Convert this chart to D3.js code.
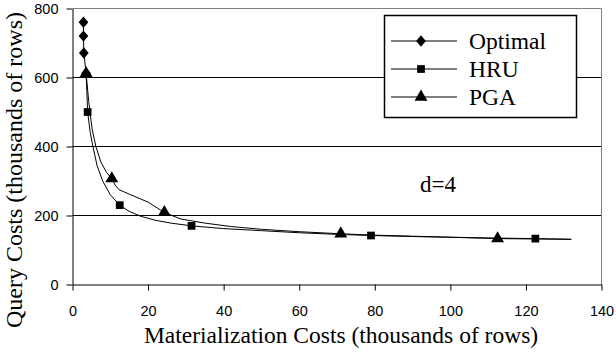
<!DOCTYPE html>
<html>
<head>
<meta charset="utf-8">
<script src="https://cdn.jsdelivr.net/npm/d3@7"></script>
<style>
  body { margin: 0; background: #fff; }
</style>
</head>
<body>
<script>
// chart values
var X_TICKS = [0, 20, 40, 60, 80, 100, 120, 140];
var Y_TICKS = [0, 200, 400, 600, 800];

var OPTIMAL_X = [2.9, 2.9, 3.0, 3.6];
var OPTIMAL_Y = [760, 720, 671, 612];

var HRU_X = [3.6, 3.8, 4.0, 4.7, 5.4, 6.5, 8, 10, 12.5, 15, 18, 22, 26, 31.5, 40, 50, 60, 71, 79, 90, 100, 110, 122.5, 132];
var HRU_Y = [612, 560, 500, 440, 400, 345, 300, 260, 230, 212, 198, 186, 178, 170, 162, 156, 150, 145, 142, 139, 137, 135, 133, 131];
var HRU_MARKS = [2, 8, 13, 18, 22];

var PGA_X = [3.6, 4.3, 5.2, 6.2, 7.5, 9, 10.4, 11.3, 12.3, 15, 18, 20.2, 21.1, 24.3, 28.6, 35, 42, 50, 60, 71, 80, 90, 100, 112.5, 122, 132];
var PGA_Y = [612, 530, 450, 400, 355, 325, 307, 288, 275, 262, 248, 238, 231, 209, 190, 178, 168, 160, 153, 147, 143, 140, 137, 133, 132, 131];
var PGA_MARKS = [0, 6, 13, 19, 23];

var LEGEND_NAMES = ["Optimal", "HRU", "PGA"];

var WIDTH = 616, HEIGHT = 353;
var SERIF = "'Liberation Serif', 'Times New Roman', serif";
var SANS = "'Liberation Sans', Arial, sans-serif";

// wide diamond like the spreadsheet marker
var wideDiamond = {
  draw: function(context, size) {
    var h = Math.sqrt(size) / 2;
    var w = h * 0.85;
    context.moveTo(0, -h);
    context.lineTo(w, 0);
    context.lineTo(0, h);
    context.lineTo(-w, 0);
    context.closePath();
  }
};
var LEGEND_SYMBOLS = [wideDiamond, d3.symbolSquare, d3.symbolTriangle];
var SYMBOL_SIZES = [130, 60, 72];

var svg = d3.select("body").append("svg")
    .attr("width", WIDTH)
    .attr("height", HEIGHT);

var x = d3.scaleLinear().domain([0, 140]).range([72.5, 601.5]);
var y = d3.scaleLinear().domain([0, 800]).range([284.5, 8.5]);

// grid lines
svg.append("g").selectAll("line")
    .data(Y_TICKS.filter(function(d) { return d > 0 && d < 800; }))
    .enter().append("line")
    .attr("x1", x(0)).attr("x2", x(140))
    .attr("y1", function(d) { return y(d); })
    .attr("y2", function(d) { return y(d); })
    .attr("stroke", "#000")
    .attr("stroke-width", 1);

// plot area border, top and right
svg.append("path")
    .attr("d", "M" + x(0) + "," + y(800) + "H" + x(140) + "V" + y(0))
    .attr("fill", "none")
    .attr("stroke", "#808080")
    .attr("stroke-width", 1);

// axes
var xAxis = svg.append("g")
    .attr("transform", "translate(0," + y(0) + ")")
    .call(d3.axisBottom(x).tickValues(X_TICKS).tickSize(6).tickPadding(15).tickSizeOuter(0));
var yAxis = svg.append("g")
    .attr("transform", "translate(" + x(0) + ",0)")
    .call(d3.axisLeft(y).tickValues(Y_TICKS).tickSize(6).tickPadding(8).tickSizeOuter(0));

[xAxis, yAxis].forEach(function(a) {
  a.select(".domain").attr("stroke", "#000");
  a.selectAll(".tick line").attr("stroke", "#000");
  a.selectAll("text")
      .attr("fill", "#000")
      .style("font-family", SANS)
      .style("font-size", "14.5px");
});

// axis titles
svg.append("text")
    .attr("x", 341)
    .attr("y", 343)
    .attr("text-anchor", "middle")
    .style("font-family", SERIF)
    .style("font-size", "23.5px")
    .text("Materialization Costs (thousands of rows)");

svg.append("text")
    .attr("transform", "translate(22,170) rotate(-90)")
    .attr("text-anchor", "middle")
    .style("font-family", SERIF)
    .style("font-size", "24px")
    .text("Query Costs (thousands of rows)");

// series
var line = d3.line()
    .x(function(d) { return x(d[0]); })
    .y(function(d) { return y(d[1]); });

function pairs(xs, ys) {
  return xs.map(function(v, i) { return [v, ys[i]]; });
}

var hru = pairs(HRU_X, HRU_Y);
var pga = pairs(PGA_X, PGA_Y);
var opt = pairs(OPTIMAL_X, OPTIMAL_Y);

[hru, pga, opt].forEach(function(s) {
  svg.append("path")
      .attr("d", line(s))
      .attr("fill", "none")
      .attr("stroke", "#000")
      .attr("stroke-width", 1);
});

function drawMarks(points, symbol, size) {
  svg.append("g").selectAll("path")
      .data(points)
      .enter().append("path")
      .attr("d", d3.symbol().type(symbol).size(size))
      .attr("transform", function(d) {
        return "translate(" + x(d[0]) + "," + y(d[1]) + ")";
      })
      .attr("fill", "#000");
}

drawMarks(opt, wideDiamond, SYMBOL_SIZES[0]);
drawMarks(HRU_MARKS.map(function(i) { return hru[i]; }), d3.symbolSquare, SYMBOL_SIZES[1]);
drawMarks(PGA_MARKS.map(function(i) { return pga[i]; }), d3.symbolTriangle, SYMBOL_SIZES[2]);

// d=4 label
svg.append("text")
    .attr("x", 420)
    .attr("y", 192)
    .style("font-family", SERIF)
    .style("font-size", "23px")
    .text("d=4");

// legend
var legend = svg.append("g");
legend.append("rect")
    .attr("x", 384.5).attr("y", 15.5)
    .attr("width", 192).attr("height", 102)
    .attr("fill", "#fff")
    .attr("stroke", "#000")
    .attr("stroke-width", 1.5);

var rows = legend.selectAll("g.row")
    .data(LEGEND_NAMES)
    .enter().append("g")
    .attr("class", "row")
    .attr("transform", function(d, i) { return "translate(0," + (41 + i * 28) + ")"; });

rows.append("line")
    .attr("x1", 391).attr("x2", 457)
    .attr("y1", 0).attr("y2", 0)
    .attr("stroke", "#000")
    .attr("stroke-width", 1.2);

rows.append("path")
    .attr("d", function(d, i) {
      return d3.symbol().type(LEGEND_SYMBOLS[i]).size(SYMBOL_SIZES[i])();
    })
    .attr("transform", "translate(421,0)")
    .attr("fill", "#000");

rows.append("text")
    .attr("x", 469)
    .attr("y", 8)
    .style("font-family", SERIF)
    .style("font-size", "23.5px")
    .text(function(d) { return d; });
</script>
</body>
</html>
